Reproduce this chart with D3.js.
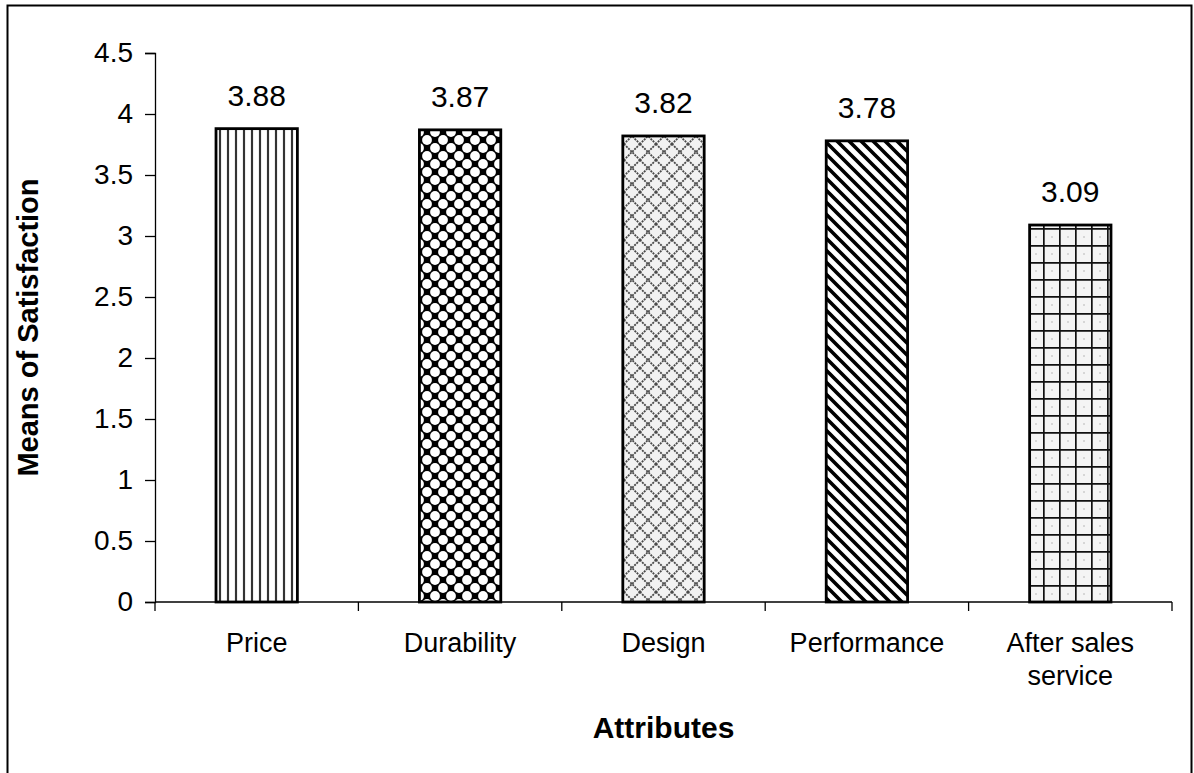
<!DOCTYPE html>
<html>
<head>
<meta charset="utf-8">
<script src="https://cdn.jsdelivr.net/npm/d3@7"></script>
<style>
  html, body { margin: 0; padding: 0; background: #fff; }
  svg text { font-family: Arial, "Liberation Sans", sans-serif; fill: #000; }
</style>
</head>
<body>
<svg id="chart" width="1194" height="773"></svg>
<script>
// Mean satisfaction per product attribute
const attributes = ["Price", "Durability", "Design", "Performance", "After sales service"];
const means = [3.88, 3.87, 3.82, 3.78, 3.09];
const yTicks = [0, 0.5, 1, 1.5, 2, 2.5, 3, 3.5, 4, 4.5];
const fills = ["vlines", "dots", "xhatch", "diag", "grid"];

const svg = d3.select("#chart");
const margin = { left: 155, right: 22, top: 53, bottom: 171 };
const W = 1194, H = 773;

// Outer frame (open at the bottom edge)
svg.append("path")
  .attr("d", `M7.5,${H} V5.5 H1191.5 V${H}`)
  .attr("fill", "none").attr("stroke", "#000").attr("stroke-width", 2);

// Fill patterns for the bars
const defs = svg.append("defs");

// vertical lines
let p = defs.append("pattern").attr("id", "vlines").attr("patternUnits", "userSpaceOnUse")
  .attr("width", 8).attr("height", 8);
p.append("rect").attr("width", 8).attr("height", 8).attr("fill", "#fff");
p.append("rect").attr("x", 2.5).attr("width", 3).attr("height", 8).attr("fill", "#ddd");
p.append("rect").attr("x", 3).attr("width", 2).attr("height", 8).attr("fill", "#333");

// white rounded blobs on black, checkerboard layout
p = defs.append("pattern").attr("id", "dots").attr("patternUnits", "userSpaceOnUse")
  .attr("width", 16).attr("height", 16).attr("x", 3).attr("y", 4);
p.append("rect").attr("width", 16).attr("height", 16).attr("fill", "#000");
[[0,0],[16,0],[0,16],[16,16],[8,8]].forEach(([cx, cy]) =>
  p.append("circle").attr("cx", cx).attr("cy", cy).attr("r", 4.9).attr("fill", "#fff"));

// dotted diagonal crosshatch on light grey
p = defs.append("pattern").attr("id", "xhatch").attr("patternUnits", "userSpaceOnUse")
  .attr("width", 16).attr("height", 16);
p.append("rect").attr("width", 16).attr("height", 16).attr("fill", "#f2f2f2");
p.append("path").attr("d", "M0,0 L16,16 M16,0 L0,16")
  .attr("stroke", "#4a4a4a").attr("stroke-width", 1.8).attr("stroke-dasharray", "2,1");

// heavy back-diagonal lines
p = defs.append("pattern").attr("id", "diag").attr("patternUnits", "userSpaceOnUse")
  .attr("width", 12).attr("height", 12);
p.append("rect").attr("width", 12).attr("height", 12).attr("fill", "#fff");
p.append("path").attr("d", "M-3,-3 L15,15 M-3,9 L3,15 M9,-3 L15,3")
  .attr("stroke", "#000").attr("stroke-width", 3.6);

// square grid on dotted light grey
p = defs.append("pattern").attr("id", "grid").attr("patternUnits", "userSpaceOnUse")
  .attr("width", 16).attr("height", 17).attr("x", 3).attr("y", 7);
p.append("rect").attr("width", 16).attr("height", 17).attr("fill", "#f4f4f4");
p.append("circle").attr("cx", 9).attr("cy", 9).attr("r", 1).attr("fill", "#ccc");
p.append("path").attr("d", "M0,0.5 H16 M0.5,0 V17")
  .attr("stroke", "#111").attr("stroke-width", 2.4);

// Scales
const x = d3.scaleBand().domain(attributes)
  .range([margin.left, W - margin.right]).paddingInner(0.6).paddingOuter(0.3);
const y = d3.scaleLinear().domain([0, 4.5]).range([H - margin.bottom, margin.top]);

const xLeft = margin.left, xRight = W - margin.right;

// Bars
svg.append("g").selectAll("rect").data(attributes).join("rect")
  .attr("x", d => x(d))
  .attr("y", (d, i) => y(means[i]))
  .attr("width", x.bandwidth())
  .attr("height", (d, i) => y(0) - y(means[i]))
  .attr("fill", (d, i) => `url(#${fills[i]})`)
  .attr("stroke", "#000").attr("stroke-width", 2.8);

// Value labels
svg.append("g").selectAll("text").data(attributes).join("text")
  .attr("x", d => x(d) + x.bandwidth() / 2)
  .attr("y", (d, i) => y(means[i]) - 23)
  .attr("text-anchor", "middle").attr("font-size", 30)
  .text((d, i) => means[i].toFixed(2));

// Y axis
const yAxis = d3.axisLeft(y).tickValues(yTicks).tickSize(10).tickPadding(12)
  .tickFormat(d => String(d));
const gy = svg.append("g").attr("transform", `translate(${xLeft},0)`).call(yAxis);
gy.select(".domain").attr("stroke", "#000").attr("stroke-width", 1.3);
gy.selectAll(".tick line").attr("stroke", "#000").attr("stroke-width", 1.3);
gy.selectAll(".tick text").attr("font-size", 28).attr("font-family", "Arial, 'Liberation Sans', sans-serif")
  .attr("fill", "#000");

// X axis with tick marks on the category boundaries
const gx = svg.append("g").attr("transform", `translate(0,${y(0)})`);
gx.append("line").attr("x1", xLeft).attr("x2", xRight).attr("stroke", "#000").attr("stroke-width", 1.3);
const step = (xRight - xLeft) / attributes.length;
gx.selectAll("line.tk").data(d3.range(attributes.length + 1)).join("line")
  .attr("class", "tk")
  .attr("x1", i => xLeft + i * step)
  .attr("x2", i => xLeft + i * step)
  .attr("y1", 0).attr("y2", 9).attr("stroke", "#000").attr("stroke-width", 1.3);

// Category labels (wrapped onto two lines where needed)
const catLines = { "After sales service": ["After sales", "service"] };
gx.selectAll("text").data(attributes).join("text")
  .attr("text-anchor", "middle").attr("font-size", 27)
  .attr("transform", d => `translate(${x(d) + x.bandwidth() / 2},50)`)
  .each(function(d) {
    const lines = catLines[d] || [d];
    d3.select(this).selectAll("tspan").data(lines).join("tspan")
      .attr("x", 0).attr("dy", (l, j) => j === 0 ? 0 : 33).text(l => l);
  });

// Axis titles
svg.append("text").attr("x", (xLeft + xRight) / 2).attr("y", 738)
  .attr("text-anchor", "middle").attr("font-size", 30).attr("font-weight", "bold")
  .text("Attributes");
svg.append("text").attr("transform", `translate(38,${(y(0) + y(4.5)) / 2}) rotate(-90)`)
  .attr("text-anchor", "middle").attr("font-size", 29).attr("font-weight", "bold")
  .text("Means of Satisfaction");
</script>
</body>
</html>
